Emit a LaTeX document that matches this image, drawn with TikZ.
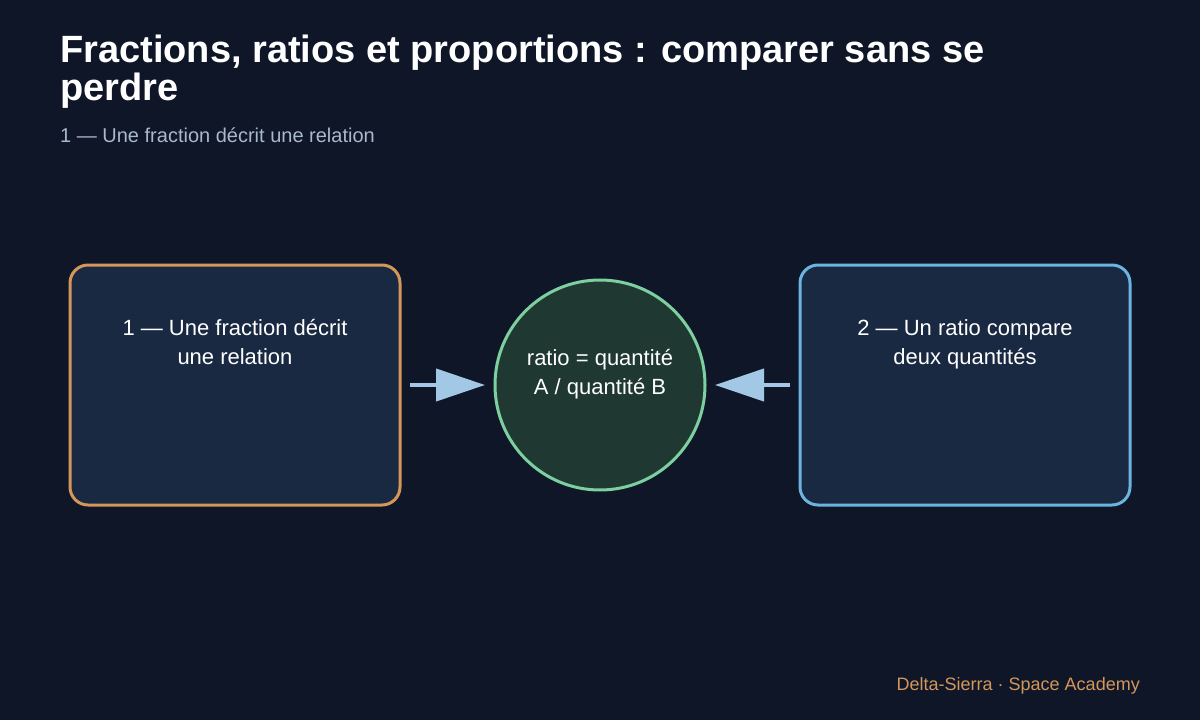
\documentclass[tikz,border=0pt]{standalone}
\usepackage{fontspec}
\setmainfont{Liberation Sans}
\usetikzlibrary{arrows.meta}

\definecolor{bgcol}{HTML}{0E1628}
\definecolor{boxfill}{HTML}{1A2942}
\definecolor{orangeline}{HTML}{D4965A}
\definecolor{blueline}{HTML}{6CB4E0}
\definecolor{ratiofill}{HTML}{1F3831}
\definecolor{ratioline}{HTML}{7DCFA0}
\definecolor{arrowcol}{HTML}{A3C8E6}
\definecolor{subcol}{HTML}{A9B8CC}

\newcommand{\titlefont}{\fontsize{38}{41}\selectfont\bfseries}

\tikzset{
	panel/.style={draw, line width=3pt, fill=boxfill, rounded corners=18pt,
		minimum width=330pt, minimum height=240pt, inner sep=0pt, outer sep=0pt},
	boxtext/.style={text=white, align=center, inner sep=0pt,
		font=\fontsize{22}{29}\selectfont},
	titletext/.style={anchor=base west, inner sep=0pt, text=white, font=\titlefont},
	link/.style={draw=arrowcol, line width=4pt,
		-{Triangle[length=49pt, width=32pt]}, shorten >=10pt, shorten <=10pt}
}

\begin{document}
\begin{tikzpicture}[x=1pt, y=-1pt]
	\fill[bgcol] (0,0) rectangle (1200,720);
	\useasboundingbox (0,0) rectangle (1200,720);

	\node[titletext] (title1) at (60,62) {Fractions, ratios et proportions : comparer sans se};
	\node[titletext] (title2) at (60,100) {perdre};
	\node[anchor=base west, inner sep=0pt, text=subcol, font=\fontsize{20}{24}\selectfont] (sub) at (60,142) {1 — Une fraction décrit une relation};

	\node[panel, draw=orangeline] (frac) at (235,385) {};
	\node[panel, draw=blueline] (comp) at (965,385) {};
	\node[circle, draw=ratioline, fill=ratiofill, line width=3pt, minimum size=210pt, inner sep=0pt, outer sep=0pt] (ratio) at (600,385) {};

	% multi-line nodes: base is the last line
	\node[boxtext, anchor=base] (fractxt) at (235,364) {1 — Une fraction décrit\\une relation};
	\node[boxtext, anchor=base] (comptxt) at (965,364) {2 — Un ratio compare\\deux quantités};
	\node[boxtext, anchor=base] (ratiotxt) at (600,394) {ratio = quantité\\A / quantité B};

	\draw[link] (frac.east) -- (ratio.west);
	\draw[link] (comp.west) -- (ratio.east);

	\node[anchor=base east, inner sep=0pt, text=orangeline, font=\fontsize{18}{22}\selectfont] (foot) at (1140,690) {Delta-Sierra · Space Academy};
\end{tikzpicture}
\end{document}
